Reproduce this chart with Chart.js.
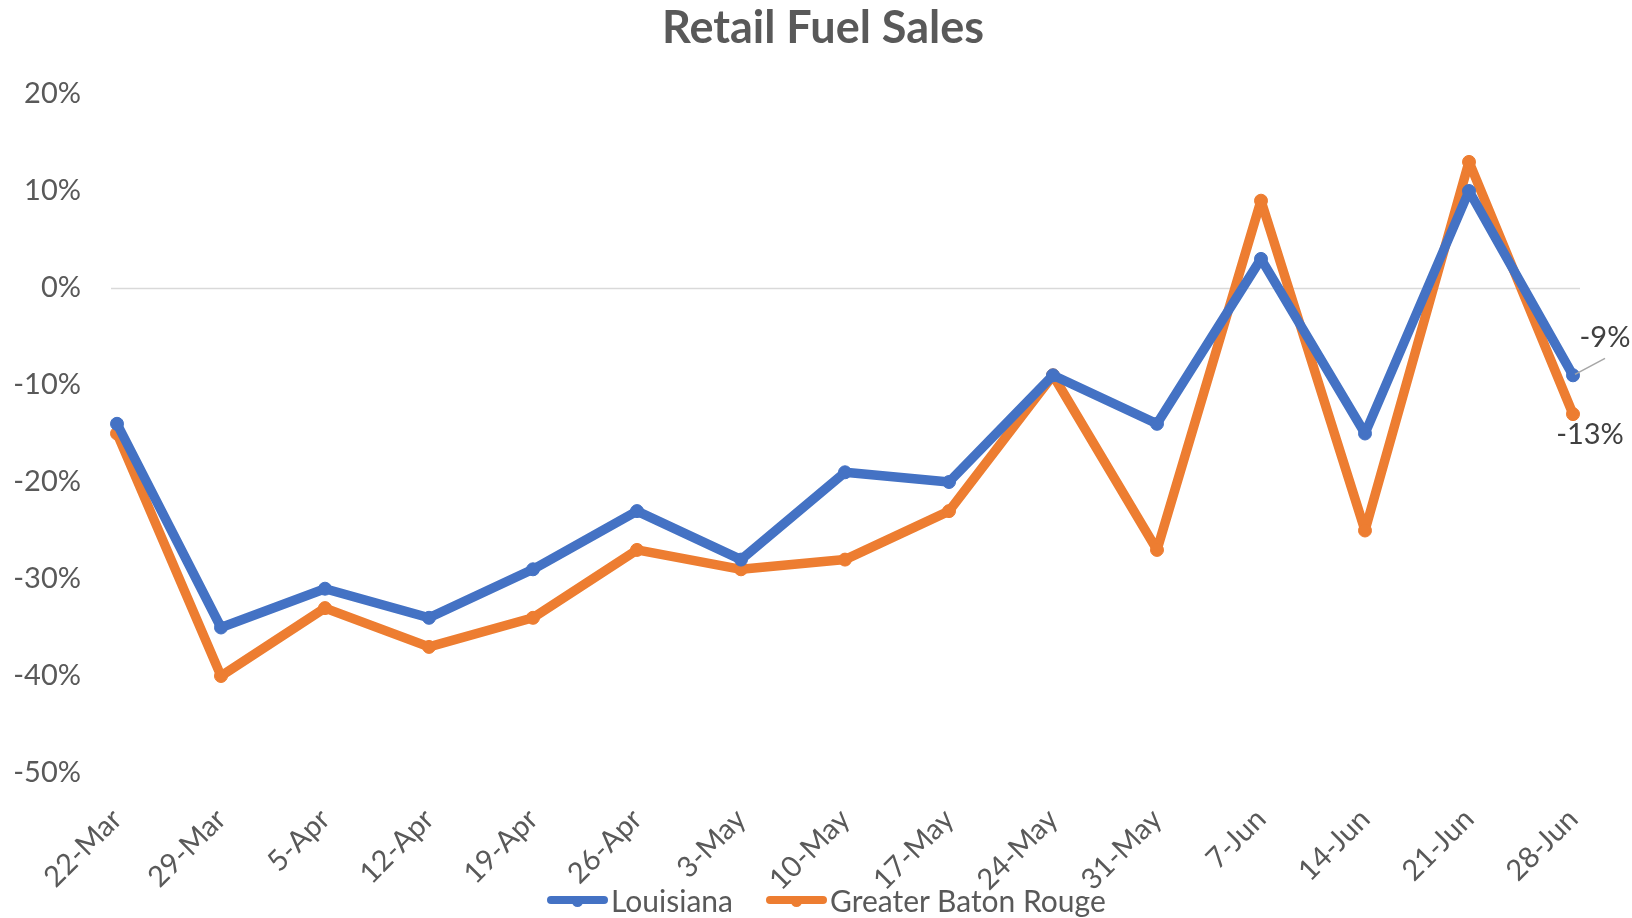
<!DOCTYPE html>
<html lang="en">
<head>
    <meta charset="UTF-8">
    <title>Retail Fuel Sales</title>
    <style>
        body {
            margin: 0;
            padding: 0;
            background: #ffffff;
            font-family: Lato, sans-serif;
            color: #595959;
        }

        .chart-container {
            position: relative;
            width: 1632px;
            height: 918px;
        }

        .chart-title {
            position: absolute;
            left: 823px;
            top: -1px;
            transform: translateX(-50%);
            margin: 0;
            font-size: 45px;
            line-height: 54px;
            font-weight: bold;
            white-space: nowrap;
        }

        .legend-container {
            position: absolute;
            top: 882px;
            left: 547px;
            display: flex;
            align-items: center;
            font-size: 30px;
            line-height: 36px;
            white-space: nowrap;
        }

        .legend-item {
            display: flex;
            align-items: center;
            margin-right: 33px;
        }

        .legend-line {
            position: relative;
            width: 61px;
            height: 8px;
            border-radius: 4px;
            margin-right: 3px;
        }

        .legend-line::after {
            content: '';
            position: absolute;
            left: 25px;
            top: 0;
            width: 11px;
            height: 11px;
            border-radius: 50%;
            background: inherit;
        }
    </style>
</head>
<body>

<div class="chart-container">
    <canvas id="fuel"></canvas>
    <div class="chart-title">Retail Fuel Sales</div>
    <div class="legend-container">
        <div class="legend-item">
            <div class="legend-line" style="background-color: #4472C4;"></div>
            <span>Louisiana</span>
        </div>
        <div class="legend-item">
            <div class="legend-line" style="background-color: #ED7D31;"></div>
            <span>Greater Baton Rouge</span>
        </div>
    </div>
</div>

<script src="https://cdn.jsdelivr.net/npm/chart.js"></script>

<script>
    const weeks = ['22-Mar', '29-Mar', '5-Apr', '12-Apr', '19-Apr', '26-Apr', '3-May', '10-May',
                   '17-May', '24-May', '31-May', '7-Jun', '14-Jun', '21-Jun', '28-Jun'];
    const louisiana = [-14, -35, -31, -34, -29, -23, -28, -19, -20, -9, -14, 3, -15, 10, -9];
    const batonRouge = [-15, -40, -33, -37, -34, -27, -29, -28, -23, -9, -27, 9, -25, 13, -13];
    const yTicks = [20, 10, 0, -10, -20, -30, -40, -50];

    const BLUE = '#4472C4';
    const ORANGE = '#ED7D31';
    const TEXT = '#595959';
    const FONT = 'Lato';

    // Excel draws the 0% axis line a bit past the plot on both sides
    const zeroLine = {
        id: 'zeroLine',
        beforeDatasetsDraw(chart) {
            const c = chart.ctx;
            const y = Math.round(chart.scales.y.getPixelForValue(0)) + 0.5;
            c.save();
            c.strokeStyle = '#d9d9d9';
            c.lineWidth = 1.5;
            c.beginPath();
            c.moveTo(chart.chartArea.left - 6, y);
            c.lineTo(chart.chartArea.right + 7, y);
            c.stroke();
            c.restore();
        }
    };

    // labels on the last point of each line
    const endLabels = {
        id: 'endLabels',
        afterDatasetsDraw(chart) {
            const c = chart.ctx;
            c.save();
            c.font = '29px ' + FONT;
            c.fillStyle = '#404040';
            c.textAlign = 'center';
            c.textBaseline = 'middle';

            const last = weeks.length - 1;
            const p0 = chart.getDatasetMeta(0).data[last];
            const p1 = chart.getDatasetMeta(1).data[last];

            // leader line for Louisiana
            c.strokeStyle = '#a6a6a6';
            c.lineWidth = 1.5;
            c.beginPath();
            c.moveTo(p0.x + 2, p0.y - 1);
            c.lineTo(p0.x + 32, p0.y - 17);
            c.stroke();

            c.fillText(louisiana[last] + '%', p0.x + 32, p0.y - 38);
            c.fillText(batonRouge[last] + '%', p1.x + 17, p1.y + 21);
            c.restore();
        }
    };

    const ctx = document.getElementById('fuel').getContext('2d');
    const fuelChart = new Chart(ctx, {
        type: 'line',
        data: {
            labels: weeks,
            datasets: [{
                label: 'Louisiana',
                data: louisiana,
                borderColor: BLUE,
                backgroundColor: BLUE,
                borderWidth: 9.5,
                pointRadius: 6.5,
                pointBorderWidth: 1,
                borderJoinStyle: 'round',
                borderCapStyle: 'round',
                tension: 0
            }, {
                label: 'Greater Baton Rouge',
                data: batonRouge,
                borderColor: ORANGE,
                backgroundColor: ORANGE,
                borderWidth: 9.5,
                pointRadius: 6.5,
                pointBorderWidth: 1,
                borderJoinStyle: 'round',
                borderCapStyle: 'round',
                tension: 0
            }]
        },
        options: {
            responsive: true,
            maintainAspectRatio: false,
            animation: false,
            layout: {
                padding: { left: 0, right: 59, top: 94, bottom: 0 }
            },
            scales: {
                x: {
                    offset: false,
                    grid: { display: false },
                    border: { display: false },
                    ticks: {
                        color: TEXT,
                        font: { family: FONT, size: 29 },
                        maxRotation: 45,
                        minRotation: 45,
                        autoSkip: false,
                        padding: 21
                    },
                    afterFit(scale) {
                        scale.height = 918 - 773;
                    }
                },
                y: {
                    min: -50,
                    max: 20,
                    afterBuildTicks(scale) {
                        scale.ticks = yTicks.map(v => ({ value: v }));
                    },
                    grid: { display: false, drawTicks: false },
                    border: { display: false },
                    ticks: {
                        color: TEXT,
                        font: { family: FONT, size: 29 },
                        padding: 36,
                        callback: v => v + '%'
                    },
                    afterFit(scale) {
                        scale.width = 117;
                    }
                }
            },
            plugins: {
                legend: { display: false },
                title: { display: false },
                tooltip: { enabled: false }
            }
        },
        plugins: [zeroLine, endLabels]
    });
</script>

</body>
</html>
